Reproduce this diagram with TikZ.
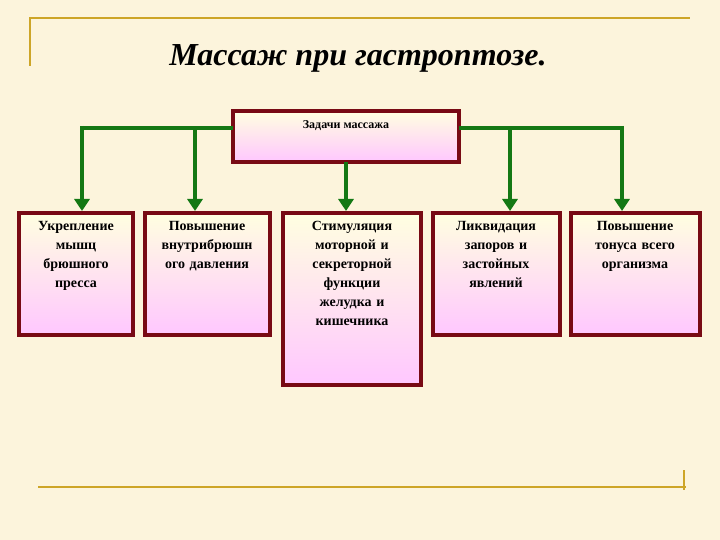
\documentclass[tikz,border=0pt]{standalone}
\usepackage{fontspec}
\setmainfont{Liberation Serif}
\usetikzlibrary{arrows.meta}
\definecolor{bg}{RGB}{252,244,220}
\definecolor{frame}{RGB}{205,165,40}
\definecolor{gline}{RGB}{20,120,20}
\definecolor{bord}{RGB}{120,10,20}
\tikzset{
 box/.style={draw=bord,line width=3.5pt,top color=yellow!12,bottom color=magenta!22,inner sep=0pt},
 conn/.style={gline,line width=4pt,-{Triangle[length=12pt,width=15pt]}},
 txt/.style={align=center,font=\bfseries\fontsize{14}{19}\selectfont,text width=#1,anchor=north}
}
\begin{document}
\begin{tikzpicture}[x=1pt,y=-1pt]
\fill[bg] (0,0) rectangle (720,540);
\useasboundingbox (0,0) rectangle (720,540);
\draw[frame,line width=2pt] (30,66)--(30,18)--(690,18);
\draw[frame,line width=2pt] (38,487)--(686,487) (684,470)--(684,490);
\node (title) at (358,58) {\bfseries\itshape\fontsize{32}{36}\selectfont Массаж при гастроптозе.};
\path[box] (233,111) rectangle (459,162);
\coordinate (top) at (346,162);
\node (tt) at (346,126) {\bfseries\fontsize{12}{14}\selectfont Задачи массажа};
\path[box] (19,213) rectangle (133,335);
\path[box] (145,213) rectangle (270,335);
\path[box] (283,213) rectangle (421,385);
\path[box] (433,213) rectangle (560,335);
\path[box] (571,213) rectangle (700,335);
\coordinate (b1) at (82,211); \coordinate (b2) at (195,211); \coordinate (b3) at (346,211);
\coordinate (b4) at (510,211); \coordinate (b5) at (622,211);
\node[txt=112pt] (t1) at (76,218) {Укрепление\\мышц\\брюшного\\пресса};
\node[txt=122pt] (t2) at (207,218) {Повышение\\внутрибрюшн\\ого давления};
\node[txt=134pt] (t3) at (352,218) {Стимуляция\\моторной и\\секреторной\\функции\\желудка и\\кишечника};
\node[txt=124pt] (t4) at (496,218) {Ликвидация\\запоров и\\застойных\\явлений};
\node[txt=127pt] (t5) at (635,218) {Повышение\\тонуса всего\\организма};
\draw[gline,line width=4pt] (233,128)--(82,128) (459,128)--(622,128);
\draw[conn] (82,126)--(b1);
\draw[conn] (195,128)--(b2);
\draw[conn] (top)--(b3);
\draw[conn] (510,128)--(b4);
\draw[conn] (622,126)--(b5);
\end{tikzpicture}
\end{document}
